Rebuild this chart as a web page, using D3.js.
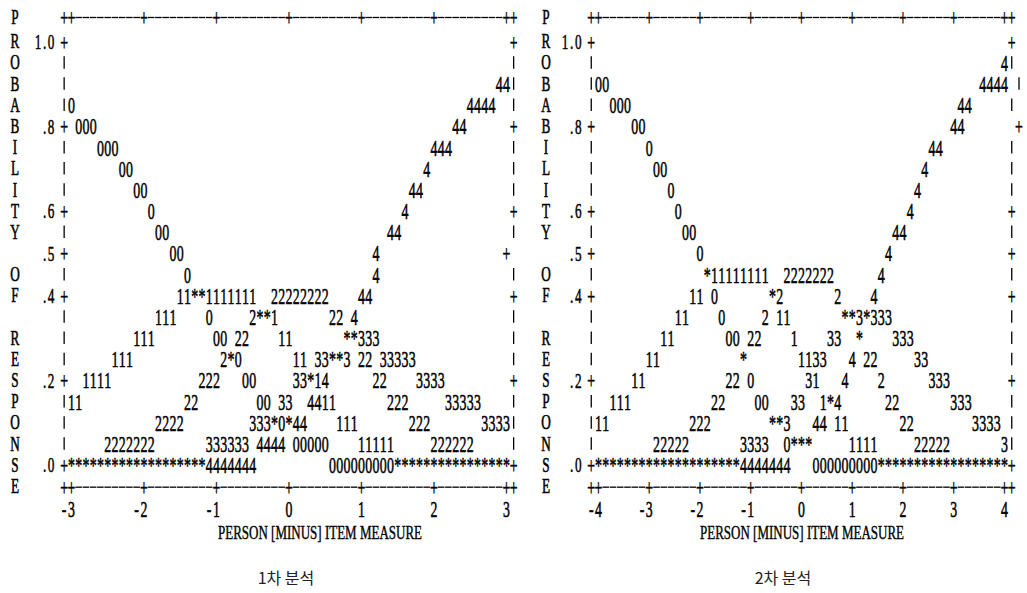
<!DOCTYPE html>
<html><head><meta charset="utf-8">
<script src="https://cdn.jsdelivr.net/npm/d3@7"></script>
<style>body{margin:0;background:#fff}</style>
</head><body><svg id="c" width="1027" height="593"></svg>
<script>
// ---------------- data ----------------
const probLabels = ["1.0", ".8", ".6", ".5", ".4", ".2", ".0"];
const probLabelValues = [1.0, 0.8, 0.6, 0.5, 0.4, 0.2, 0.0];
const titleLetters = "PROBABILITY OF RESPONSE";
const axisTitle = "PERSON [MINUS] ITEM MEASURE";
const panelCaptions = ["1차 분석", "2차 분석"];
const ticksA = [-3, -2, -1, 0, 1, 2, 3];
const ticksB = [-4, -3, -2, -1, 0, 1, 2, 3, 4];
const colsPerUnitA = 10;
const colsPerUnitB = 7;

// category curves as printed: [probability row, column, characters]
const curveRunsA = [
  [0.90, 59, "44"],
  [0.85, 0, "0"], [0.85, 55, "4444"],
  [0.80, 1, "000"], [0.80, 53, "44"],
  [0.75, 4, "000"], [0.75, 50, "444"],
  [0.70, 7, "00"], [0.70, 49, "4"],
  [0.65, 9, "00"], [0.65, 47, "44"],
  [0.60, 11, "0"], [0.60, 46, "4"],
  [0.55, 12, "00"], [0.55, 44, "44"],
  [0.50, 14, "00"], [0.50, 42, "4"],
  [0.45, 16, "0"], [0.45, 42, "4"],
  [0.40, 15, "11**1111111"], [0.40, 28, "22222222"], [0.40, 40, "44"],
  [0.35, 12, "111"], [0.35, 19, "0"], [0.35, 25, "2**1"], [0.35, 36, "22"], [0.35, 39, "4"],
  [0.30, 9, "111"], [0.30, 20, "00"], [0.30, 23, "22"], [0.30, 29, "11"], [0.30, 38, "**333"],
  [0.25, 6, "111"], [0.25, 21, "2*0"], [0.25, 31, "11"], [0.25, 34, "33**3"], [0.25, 40, "22"], [0.25, 43, "33333"],
  [0.20, 2, "1111"], [0.20, 18, "222"], [0.20, 24, "00"], [0.20, 31, "33*14"], [0.20, 42, "22"], [0.20, 48, "3333"],
  [0.15, 0, "11"], [0.15, 16, "22"], [0.15, 26, "00"], [0.15, 29, "33"], [0.15, 33, "4411"], [0.15, 44, "222"], [0.15, 52, "33333"],
  [0.10, 12, "2222"], [0.10, 25, "333*0*44"], [0.10, 37, "111"], [0.10, 47, "222"], [0.10, 57, "3333"],
  [0.05, 5, "2222222"], [0.05, 19, "333333"], [0.05, 26, "4444"], [0.05, 31, "00000"], [0.05, 40, "11111"], [0.05, 50, "222222"],
  [0.00, 0, "*******************"], [0.00, 19, "4444444"], [0.00, 36, "000000000"], [0.00, 45, "****************"]
];
const curveRunsB = [
  [0.95, 56, "4"],
  [0.90, 0, "00"], [0.90, 53, "4444"],
  [0.85, 2, "000"], [0.85, 50, "44"],
  [0.80, 5, "00"], [0.80, 49, "44"],
  [0.75, 7, "0"], [0.75, 46, "44"],
  [0.70, 8, "00"], [0.70, 45, "4"],
  [0.65, 10, "0"], [0.65, 44, "4"],
  [0.60, 11, "0"], [0.60, 43, "4"],
  [0.55, 12, "00"], [0.55, 41, "44"],
  [0.50, 14, "0"], [0.50, 40, "4"],
  [0.45, 15, "*11111111"], [0.45, 26, "2222222"], [0.45, 39, "4"],
  [0.40, 13, "11"], [0.40, 16, "0"], [0.40, 24, "*2"], [0.40, 33, "2"], [0.40, 38, "4"],
  [0.35, 11, "11"], [0.35, 17, "0"], [0.35, 23, "2"], [0.35, 25, "11"], [0.35, 34, "**3*333"],
  [0.30, 9, "11"], [0.30, 18, "00"], [0.30, 21, "22"], [0.30, 27, "1"], [0.30, 32, "33"], [0.30, 36, "*"], [0.30, 41, "333"],
  [0.25, 7, "11"], [0.25, 20, "*"], [0.25, 28, "1133"], [0.25, 35, "4"], [0.25, 37, "22"], [0.25, 44, "33"],
  [0.20, 5, "11"], [0.20, 18, "22"], [0.20, 21, "0"], [0.20, 29, "31"], [0.20, 34, "4"], [0.20, 39, "2"], [0.20, 46, "333"],
  [0.15, 2, "111"], [0.15, 16, "22"], [0.15, 22, "00"], [0.15, 27, "33"], [0.15, 31, "1*4"], [0.15, 40, "22"], [0.15, 49, "333"],
  [0.10, 0, "11"], [0.10, 13, "222"], [0.10, 24, "**3"], [0.10, 30, "44"], [0.10, 33, "11"], [0.10, 42, "22"], [0.10, 52, "3333"],
  [0.05, 8, "22222"], [0.05, 20, "3333"], [0.05, 26, "0***"], [0.05, 35, "1111"], [0.05, 44, "22222"], [0.05, 56, "3"],
  [0.00, 0, "********************"], [0.00, 20, "4444444"], [0.00, 30, "000000000"], [0.00, 39, "******************"]
];
// rows whose right-hand border character is printed out of place: [probability row, column]
const borderRightA = [[0.50, 60]];
const borderRightB = [[0.90, 58], [0.80, 58]];

// ---------------- layout ----------------
const svg = d3.select("#c");
const FONT = "'Liberation Serif','Times New Roman',serif";
const FS = 24, SX = 0.58;
const y = d3.scaleLinear().domain([0, 1]).range([465, 41.5]);
const rowStep = y(0) - y(0.05);
const topAxisY = 17, bottomAxisY = y(0) + rowStep + 0.5;
const tickLabelY = 509, axisTitleY = 532, captionY = 578;

function glyph(g, ch, x, yc, size, sx) {
  if (ch === " ") return;
  if (ch === "|") {
    g.append("line").attr("x1", x).attr("x2", x).attr("y1", yc - 6.5).attr("y2", yc + 6)
      .attr("stroke", "#000").attr("stroke-width", 1.3);
    return;
  }
  const fs = size || FS;
  g.append("text")
    .attr("transform", `translate(${x},${yc + fs * 0.34}) scale(${sx || SX},1)`)
    .attr("text-anchor", "middle")
    .attr("font-family", FONT).attr("font-size", fs)
    .attr("fill", "#000").attr("stroke", "#000").attr("stroke-width", 0.55)
    .text(ch);
}

function drawPanel(cfg) {
  const g = svg.append("g");
  const x = d3.scaleLinear().domain([cfg.min, cfg.max]).range([cfg.left, cfg.right]);
  const nCols = (cfg.max - cfg.min) * cfg.perUnit;
  const colX = c => x(cfg.min + c / cfg.perUnit);
  const pitch = colX(1) - colX(0);

  // top and bottom axis rows
  [topAxisY, bottomAxisY].forEach(yy => {
    for (let c = -1; c <= nCols + 1; c++) {
      const plus = c === -1 || c === nCols + 1 || (c % cfg.perUnit === 0);
      if (plus) glyph(g, "+", colX(c), yy);
      else g.append("line").attr("x1", colX(c) - 3.3).attr("x2", colX(c) + 3.3)
        .attr("y1", yy + 0.5).attr("y2", yy + 0.5).attr("stroke", "#000").attr("stroke-width", 1.3);
    }
  });

  // side borders
  for (let k = 0; k <= 20; k++) {
    const p = k / 20;
    const labeled = probLabelValues.some(v => Math.abs(v - p) < 1e-9);
    const ch = labeled ? "+" : "|";
    glyph(g, ch, colX(-1), y(p));
    const ov = cfg.borderRight.find(d => Math.abs(d[0] - p) < 1e-9);
    glyph(g, ch, colX(ov ? ov[1] : nCols + 1), y(p));
  }

  // curves
  cfg.runs.forEach(([p, c, s]) => {
    [...s].forEach((ch, i) => glyph(g, ch, colX(c + i), y(p)));
  });

  // probability labels
  probLabels.forEach((lab, i) => {
    const chars = [...lab];
    chars.forEach((ch, j) => glyph(g, ch, colX(-1) - 13 - (chars.length - 1 - j) * 6.6, y(probLabelValues[i]), 22, 0.6));
  });

  // vertical title letters
  [...titleLetters].forEach((ch, i) => {
    const yy = i === 0 ? topAxisY : (i === titleLetters.length - 1 ? bottomAxisY : y(1 - (i - 1) * 0.05));
    glyph(g, ch, cfg.letterX, yy, 20, 0.66);
  });

  // tick labels
  cfg.ticks.forEach(t => {
    const s = [...String(t)];
    s.forEach((ch, j) => glyph(g, ch, x(t) - (s.length - 1 - j) * pitch, tickLabelY, 23, 0.6));
  });

  // axis title
  g.append("text").attr("x", cfg.titleX).attr("y", axisTitleY + 6.5)
    .attr("font-family", FONT).attr("font-size", 19)
    .attr("textLength", 204).attr("lengthAdjust", "spacingAndGlyphs")
    .attr("fill", "#000").attr("stroke", "#000").attr("stroke-width", 0.4)
    .text(axisTitle);

  // caption
  g.append("text").attr("x", cfg.captionX).attr("y", captionY + 6)
    .attr("text-anchor", "middle")
    .attr("font-family", "'Noto Sans CJK KR','Noto Sans',sans-serif")
    .attr("font-size", 16).attr("fill", "#222")
    .text(cfg.caption);
}

drawPanel({min: -3, max: 3, perUnit: colsPerUnitA, left: 71.4, right: 506.4, runs: curveRunsA,
  borderRight: borderRightA, ticks: ticksA, letterX: 15, titleX: 218, captionX: 286, caption: panelCaptions[0]});
drawPanel({min: -4, max: 4, perUnit: colsPerUnitB, left: 598.5, right: 1004.5, runs: curveRunsB,
  borderRight: borderRightB, ticks: ticksB, letterX: 546, titleX: 700, captionX: 783, caption: panelCaptions[1]});
</script>
</body></html>
